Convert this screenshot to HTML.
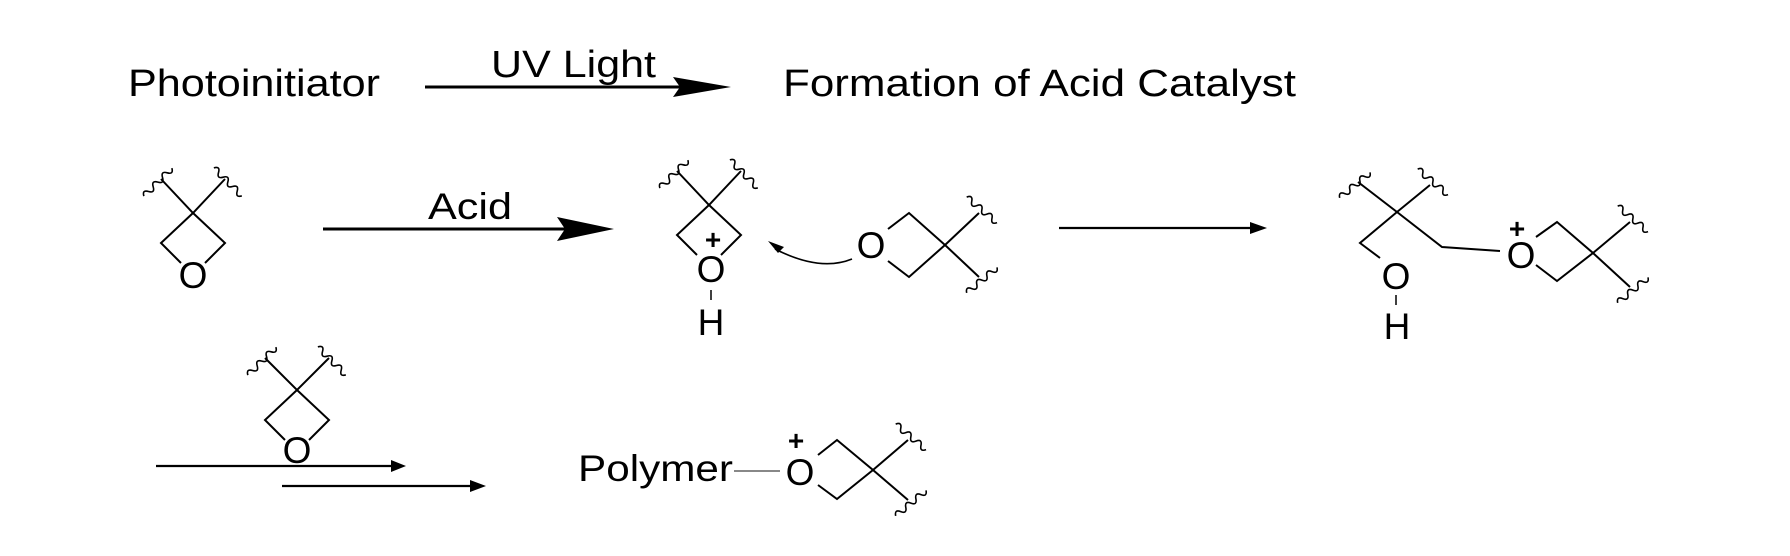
<!DOCTYPE html>
<html><head><meta charset="utf-8"><style>
html,body{margin:0;padding:0;background:#fff;}
svg{display:block;}
text{font-family:"Liberation Sans",Arial,sans-serif;fill:#000;}
</style></head><body>
<svg width="1790" height="556" viewBox="0 0 1790 556" xmlns="http://www.w3.org/2000/svg">
<defs>
<path id="sq" d="M-20,0 q3.3,-6 6.6,0 t6.6,0 t6.6,0 t6.6,0 t6.6,0 t6.6,0" fill="none" stroke="#000" stroke-width="1.6"/>
</defs>
<g stroke="#000" stroke-width="2" fill="none">
<line x1="425" y1="87" x2="690" y2="87" stroke-width="3"/>
<line x1="323" y1="229" x2="570" y2="229" stroke-width="3"/>
<line x1="1059" y1="228" x2="1255" y2="228" stroke-width="2.2"/>
<line x1="156" y1="466" x2="395" y2="466" stroke-width="2.2"/>
<line x1="282" y1="486" x2="475" y2="486" stroke-width="2.2"/>

<polyline points="161,179 193,213 225,179"/>
<polyline points="193,213 161,243 181,263"/>
<polyline points="193,213 225,243 205,263"/>
<polyline points="677,171 709,205 741,171"/>
<polyline points="709,205 677,235 697,255"/>
<polyline points="709,205 741,235 721,255"/>
<line x1="711" y1="290" x2="711" y2="300" stroke-width="1.5"/>
<path d="M852,259 Q820,272 775,249" stroke-width="1.6"/>
<polyline points="979,213 945,245 979,277"/>
<polyline points="945,245 909,213 888,229"/>
<polyline points="945,245 909,277 888,261"/>
<polyline points="1358,182 1397,212 1430,185"/>
<polyline points="1397,212 1360,243 1380,258"/>
<polyline points="1397,212 1442,247 1500,251"/>
<line x1="1396" y1="295" x2="1396" y2="305" stroke-width="1.5"/>
<polyline points="1536,237 1557,222 1593,253 1557,281 1536,265"/>
<polyline points="1630,222 1593,253 1630,287"/>
<polyline points="265,358 297,390 329,358"/>
<polyline points="297,390 265,420 285,440"/>
<polyline points="297,390 329,420 309,440"/>
<line x1="734" y1="471" x2="780" y2="471" stroke="#888" stroke-width="2"/>
<polyline points="818,455 837,440 873,470 837,499 818,485"/>
<polyline points="908,440 873,470 908,500"/>
</g>
<g fill="#000">
<polygon points="673,77 731,87 673,97 680,87"/>
<polygon points="557,217 614,229 557,241 565,229"/>
<polygon points="1250,222 1267,228 1250,234"/>
<polygon points="391,460 406,466 391,472"/>
<polygon points="470,480 486,486 470,492"/>
<polygon points="768,241 784,247 778,253"/>
</g>
<use href="#sq" transform="translate(158,182) rotate(-45)"/>
<use href="#sq" transform="translate(228,182) rotate(45)"/>
<use href="#sq" transform="translate(674,174) rotate(-45)"/>
<use href="#sq" transform="translate(744,174) rotate(45)"/>
<use href="#sq" transform="translate(982,210) rotate(40)"/>
<use href="#sq" transform="translate(982,280) rotate(-40)"/>
<use href="#sq" transform="translate(1355,185) rotate(-40)"/>
<use href="#sq" transform="translate(1433,182) rotate(40)"/>
<use href="#sq" transform="translate(1633,219) rotate(40)"/>
<use href="#sq" transform="translate(1633,290) rotate(-40)"/>
<use href="#sq" transform="translate(262,361) rotate(-45)"/>
<use href="#sq" transform="translate(332,361) rotate(45)"/>
<use href="#sq" transform="translate(911,437) rotate(40)"/>
<use href="#sq" transform="translate(911,503) rotate(-40)"/>

<text x="128" y="96" font-size="38" textLength="252" lengthAdjust="spacingAndGlyphs">Photoinitiator</text>
<text x="491" y="77" font-size="38" textLength="165" lengthAdjust="spacingAndGlyphs">UV Light</text>
<text x="783" y="96" font-size="38" textLength="513" lengthAdjust="spacingAndGlyphs">Formation of Acid Catalyst</text>
<text x="428" y="219" font-size="37" textLength="84" lengthAdjust="spacingAndGlyphs">Acid</text>
<text x="578" y="481" font-size="37" textLength="155" lengthAdjust="spacingAndGlyphs">Polymer</text>

<g font-size="37" text-anchor="middle">
<text x="193" y="288">O</text>
<text x="711" y="282">O</text>
<text x="711" y="335">H</text>
<text x="871" y="258">O</text>
<text x="1396" y="289">O</text>
<text x="1397" y="339">H</text>
<text x="1521" y="268">O</text>
<text x="297" y="463">O</text>
<text x="800" y="485">O</text>
</g>
<g font-size="28" font-weight="bold" text-anchor="middle">
<text x="713" y="249">+</text>
<text x="1517" y="238">+</text>
<text x="796" y="450">+</text>
</g>
</svg>
</body></html>
